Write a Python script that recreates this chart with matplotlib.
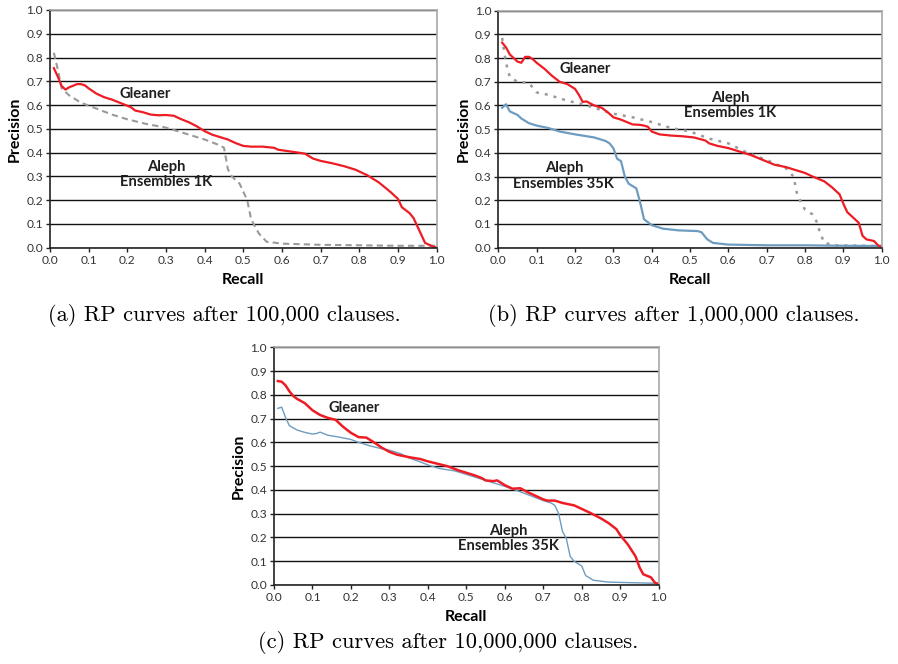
import matplotlib
matplotlib.use("Agg")
import matplotlib.pyplot as plt
import numpy as np

# ---------------- data ----------------
# Panel (a): after 100,000 clauses
a_gleaner_recall = [0.01, 0.02, 0.03, 0.04, 0.05, 0.07, 0.08, 0.09, 0.10, 0.12, 0.14, 0.16, 0.18, 0.20, 0.21,
                    0.22, 0.24, 0.26, 0.28, 0.30, 0.32, 0.34, 0.36, 0.38, 0.40, 0.42, 0.44, 0.46, 0.48, 0.50,
                    0.52, 0.55, 0.58, 0.59, 0.62, 0.65, 0.66, 0.68, 0.70, 0.73, 0.76, 0.79, 0.82, 0.85, 0.88,
                    0.90, 0.91, 0.93, 0.94, 0.95, 0.96, 0.97, 0.99, 1.0]
a_gleaner_prec = [0.755, 0.72, 0.68, 0.665, 0.675, 0.688, 0.688, 0.683, 0.67, 0.648, 0.633, 0.623, 0.61, 0.597, 0.59,
                  0.577, 0.57, 0.56, 0.557, 0.558, 0.555, 0.54, 0.527, 0.51, 0.49, 0.475, 0.465, 0.455, 0.44, 0.428,
                  0.425, 0.425, 0.42, 0.412, 0.405, 0.398, 0.395, 0.375, 0.365, 0.355, 0.343, 0.328, 0.305, 0.275, 0.235,
                  0.205, 0.17, 0.145, 0.125, 0.09, 0.055, 0.02, 0.005, 0.0]
a_aleph1k_recall = [0.01, 0.02, 0.03, 0.05, 0.08, 0.12, 0.16, 0.20, 0.25, 0.30, 0.35, 0.40, 0.44, 0.45, 0.46,
                    0.47, 0.49, 0.51, 0.52, 0.54, 0.56, 0.60, 0.70, 0.80, 0.90, 1.0]
a_aleph1k_prec = [0.82, 0.75, 0.67, 0.64, 0.61, 0.585, 0.56, 0.54, 0.52, 0.505, 0.48, 0.455, 0.43, 0.42, 0.33,
                  0.30, 0.27, 0.20, 0.12, 0.06, 0.025, 0.017, 0.012, 0.01, 0.008, 0.008]

# Panel (b): after 1,000,000 clauses
b_gleaner_recall = [0.01, 0.02, 0.03, 0.04, 0.05, 0.06, 0.07, 0.08, 0.09, 0.10, 0.12, 0.14, 0.16, 0.17, 0.18,
                    0.20, 0.21, 0.22, 0.23, 0.25, 0.27, 0.29, 0.30, 0.32, 0.35, 0.37, 0.38, 0.39, 0.40, 0.42,
                    0.45, 0.48, 0.51, 0.54, 0.55, 0.57, 0.60, 0.63, 0.66, 0.69, 0.72, 0.75, 0.78, 0.80, 0.82,
                    0.85, 0.87, 0.89, 0.90, 0.91, 0.93, 0.94, 0.95, 0.96, 0.98, 0.99, 1.0]
b_gleaner_prec = [0.865, 0.845, 0.815, 0.80, 0.785, 0.78, 0.805, 0.805, 0.795, 0.78, 0.755, 0.725, 0.70, 0.695, 0.69,
                  0.67, 0.645, 0.615, 0.617, 0.60, 0.59, 0.565, 0.55, 0.54, 0.52, 0.518, 0.515, 0.51, 0.49, 0.478,
                  0.473, 0.47, 0.465, 0.452, 0.44, 0.43, 0.42, 0.405, 0.39, 0.37, 0.35, 0.34, 0.325, 0.315, 0.30,
                  0.28, 0.255, 0.225, 0.185, 0.15, 0.12, 0.105, 0.05, 0.035, 0.028, 0.01, 0.003]
b_aleph1k_recall = [0.01, 0.015, 0.02, 0.03, 0.05, 0.08, 0.10, 0.13, 0.18, 0.22, 0.27, 0.30, 0.35, 0.40, 0.45,
                    0.50, 0.55, 0.60, 0.65, 0.70, 0.72, 0.75, 0.77, 0.78, 0.80, 0.82, 0.83, 0.84, 0.85, 0.88,
                    0.95, 1.0]
b_aleph1k_prec = [0.885, 0.83, 0.78, 0.72, 0.70, 0.695, 0.655, 0.645, 0.62, 0.605, 0.58, 0.565, 0.55, 0.53, 0.505,
                  0.49, 0.46, 0.44, 0.40, 0.37, 0.355, 0.335, 0.30, 0.22, 0.16, 0.14, 0.11, 0.06, 0.02, 0.01,
                  0.008, 0.007]
b_aleph35k_recall = [0.01, 0.02, 0.03, 0.05, 0.06, 0.08, 0.10, 0.13, 0.16, 0.20, 0.25, 0.28, 0.29, 0.30, 0.31,
                     0.32, 0.33, 0.34, 0.36, 0.37, 0.38, 0.40, 0.43, 0.47, 0.52, 0.53, 0.545, 0.56, 0.60, 0.70,
                     0.80, 0.90, 1.0]
b_aleph35k_prec = [0.59, 0.605, 0.575, 0.56, 0.545, 0.525, 0.515, 0.505, 0.49, 0.478, 0.465, 0.45, 0.44, 0.42, 0.375,
                   0.365, 0.30, 0.27, 0.25, 0.19, 0.12, 0.095, 0.08, 0.073, 0.07, 0.065, 0.035, 0.02, 0.013, 0.01,
                   0.01, 0.008, 0.007]

# Panel (c): after 10,000,000 clauses
c_gleaner_recall = [0.01, 0.02, 0.03, 0.04, 0.05, 0.06, 0.08, 0.10, 0.12, 0.14, 0.16, 0.18, 0.20, 0.22, 0.24,
                    0.26, 0.28, 0.30, 0.32, 0.35, 0.38, 0.40, 0.42, 0.45, 0.48, 0.50, 0.52, 0.54, 0.55, 0.57,
                    0.58, 0.60, 0.62, 0.64, 0.66, 0.68, 0.70, 0.71, 0.73, 0.75, 0.78, 0.80, 0.82, 0.85, 0.87,
                    0.89, 0.90, 0.92, 0.94, 0.95, 0.96, 0.98, 0.99, 1.0]
c_gleaner_prec = [0.858, 0.855, 0.84, 0.815, 0.795, 0.783, 0.765, 0.735, 0.715, 0.703, 0.695, 0.665, 0.64, 0.622, 0.62,
                  0.60, 0.578, 0.56, 0.548, 0.538, 0.53, 0.52, 0.512, 0.50, 0.482, 0.472, 0.462, 0.45, 0.44, 0.437,
                  0.44, 0.42, 0.405, 0.407, 0.39, 0.375, 0.36, 0.355, 0.355, 0.345, 0.335, 0.32, 0.305, 0.28, 0.26,
                  0.235, 0.21, 0.17, 0.12, 0.075, 0.045, 0.032, 0.01, 0.003]
c_aleph35k_recall = [0.01, 0.02, 0.03, 0.04, 0.06, 0.08, 0.10, 0.11, 0.12, 0.14, 0.17, 0.20, 0.22, 0.25, 0.28,
                     0.30, 0.33, 0.35, 0.38, 0.40, 0.43, 0.47, 0.50, 0.55, 0.60, 0.63, 0.66, 0.70, 0.72, 0.73,
                     0.74, 0.75, 0.76, 0.77, 0.78, 0.80, 0.81, 0.83, 0.87, 0.92, 1.0]
c_aleph35k_prec = [0.743, 0.748, 0.705, 0.67, 0.652, 0.642, 0.635, 0.637, 0.643, 0.63, 0.622, 0.612, 0.60, 0.585, 0.573,
                   0.567, 0.552, 0.535, 0.518, 0.505, 0.49, 0.48, 0.465, 0.44, 0.415, 0.398, 0.38, 0.355, 0.345, 0.335,
                   0.30, 0.225, 0.195, 0.12, 0.10, 0.08, 0.04, 0.02, 0.012, 0.01, 0.007]

ticks = [0.0, 0.1, 0.2, 0.3, 0.4, 0.5, 0.6, 0.7, 0.8, 0.9, 1.0]
tick_labels = ["0.0", "0.1", "0.2", "0.3", "0.4", "0.5", "0.6", "0.7", "0.8", "0.9", "1.0"]
captions = ["(a) RP curves after 100,000 clauses.",
            "(b) RP curves after 1,000,000 clauses.",
            "(c) RP curves after 10,000,000 clauses."]

# ---------------- style ----------------
RED = "#ee1c24"
GRAY = "#9a9a9a"
BLUE = "#6d9cc0"
SANS = ["Lato", "DejaVu Sans"]
SERIF = ["cmr10", "DejaVu Serif"]

fig = plt.figure(figsize=(8.98, 6.64), dpi=100)

ax_a = fig.add_axes([0.0557, 0.627, 0.4306, 0.358])
ax_b = fig.add_axes([0.5549, 0.627, 0.4270, 0.357])
ax_c = fig.add_axes([0.3051, 0.119, 0.4284, 0.358])


def style(ax):
    ax.set_xlim(0, 1)
    ax.set_ylim(0, 1)
    ax.set_xticks(ticks)
    ax.set_yticks(ticks)
    ax.set_xticklabels(tick_labels, family=SANS, fontsize=8.6, color="#333333")
    ax.set_yticklabels(tick_labels, family=SANS, fontsize=8.6, color="#333333")
    ax.tick_params(direction="out", length=3, width=1, color="#222222", pad=2)
    ax.yaxis.grid(True, color="#111111", linewidth=1.0)
    ax.set_axisbelow(True)
    for s in ("left", "bottom"):
        ax.spines[s].set_color("#222222")
        ax.spines[s].set_linewidth(1.2)
    for s in ("top", "right"):
        ax.spines[s].set_color("#a8a8a8")
        ax.spines[s].set_linewidth(1.2)
    ax.set_xlabel("Recall", family=SANS, fontweight="bold", fontsize=11.5, labelpad=5)
    ax.set_ylabel("Precision", family=SANS, fontweight="bold", fontsize=11.5, labelpad=3)


def note(ax, x, y, s):
    ax.text(x, y, s, family=SANS, fontweight="bold", fontsize=10.6, ha="center", va="center",
            color="#1e1e1e", linespacing=1.15)


# Panel (a)
style(ax_a)
ax_a.plot(a_aleph1k_recall, a_aleph1k_prec, color=GRAY, linestyle=(0, (3, 2)), linewidth=1.5)
ax_a.plot(a_gleaner_recall, a_gleaner_prec, color=RED, linewidth=1.6)
note(ax_a, 0.246, 0.645, "Gleaner")
note(ax_a, 0.30, 0.308, "Aleph\nEnsembles 1K")

# Panel (b)
style(ax_b)
ax_b.plot(b_aleph1k_recall, b_aleph1k_prec, color=GRAY, linestyle=(0, (1.2, 2.4)), linewidth=1.8)
ax_b.plot(b_aleph35k_recall, b_aleph35k_prec, color=BLUE, linewidth=1.6)
ax_b.plot(b_gleaner_recall, b_gleaner_prec, color=RED, linewidth=1.6)
note(ax_b, 0.226, 0.753, "Gleaner")
note(ax_b, 0.604, 0.600, "Aleph\nEnsembles 1K")
note(ax_b, 0.171, 0.303, "Aleph\nEnsembles 35K")

# Panel (c)
style(ax_c)
ax_c.plot(c_aleph35k_recall, c_aleph35k_prec, color=BLUE, linewidth=1.0)
ax_c.plot(c_gleaner_recall, c_gleaner_prec, color=RED, linewidth=1.8)
note(ax_c, 0.209, 0.743, "Gleaner")
note(ax_c, 0.609, 0.196, "Aleph\nEnsembles 35K")

# Captions
fig.text(224 / 898, 1 - 316 / 664, captions[0], family=SERIF, fontsize=16.2, ha="center", va="center")
fig.text(674 / 898, 1 - 316 / 664, captions[1], family=SERIF, fontsize=16.2, ha="center", va="center")
fig.text(448 / 898, 1 - 643 / 664, captions[2], family=SERIF, fontsize=16.2, ha="center", va="center")

fig.savefig("out.png", dpi=100, facecolor="white")
